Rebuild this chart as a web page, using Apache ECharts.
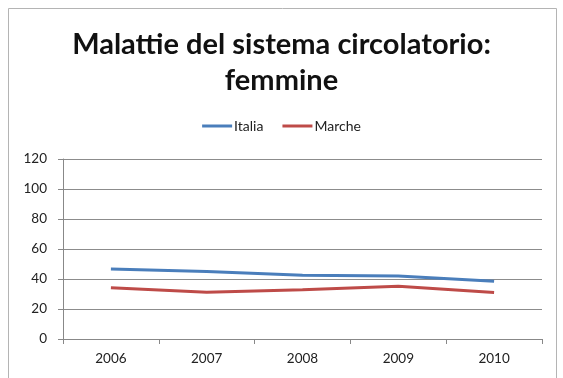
<!DOCTYPE html>
<html>
<head>
<meta charset="utf-8">
<style>
  html, body { margin: 0; padding: 0; background: #ffffff; }
  #chart { width: 563px; height: 378px; }
</style>
<script src="https://cdn.jsdelivr.net/npm/echarts@6/dist/echarts.min.js"></script>
</head>
<body>
<div id="chart"></div>
<script>
// Years on the category axis
const years = ['2006', '2007', '2008', '2009', '2010'];
// Rates for women, circulatory diseases
const italia = [46.7, 45, 42.5, 42, 38.5];
const marche = [34.2, 31.2, 32.8, 35.2, 31];
// Value axis ticks
const yTicks = [0, 20, 40, 60, 80, 100, 120];

const font = 'Lato, "Open Sans", sans-serif';

const chart = echarts.init(document.getElementById('chart'), null, { renderer: 'canvas' });
chart.setOption({
  backgroundColor: '#ffffff',
  animation: false,
  graphic: [{
    type: 'rect',
    shape: { x: 8.5, y: 8.5, width: 548, height: 380 },
    style: { fill: 'none', stroke: '#b4b4b4', lineWidth: 1 },
    silent: true
  }],
  title: {
    text: 'Malattie del sistema circolatorio:\nfemmine',
    left: 'center',
    top: 22,
    textStyle: {
      fontFamily: font,
      fontWeight: 'bold',
      fontSize: 29,
      lineHeight: 36,
      color: '#111111'
    }
  },
  legend: {
    top: 114,
    left: 'center',
    itemWidth: 30,
    itemHeight: 3,
    itemGap: 19,
    icon: 'rect',
    textStyle: { fontFamily: font, fontSize: 14, color: '#222222', padding: [0, 0, 0, -3] },
    data: ['Italia', 'Marche']
  },
  grid: { left: 63, right: 21, top: 159, bottom: 39, containLabel: false },
  xAxis: {
    type: 'category',
    data: years,
    boundaryGap: true,
    axisLine: { show: true, lineStyle: { color: '#888888', width: 1 } },
    axisTick: { show: true, inside: false, length: 5, alignWithLabel: false, lineStyle: { color: '#888888' } },
    axisLabel: { margin: 13, fontFamily: font, fontSize: 13.5, color: '#222222' },
    splitLine: { show: false }
  },
  yAxis: {
    type: 'value',
    min: yTicks[0],
    max: yTicks[yTicks.length - 1],
    interval: yTicks[1] - yTicks[0],
    axisLine: { show: true, lineStyle: { color: '#888888', width: 1 } },
    axisTick: { show: true, inside: false, length: 5, lineStyle: { color: '#888888' } },
    axisLabel: { margin: 16, fontFamily: font, fontSize: 13.5, color: '#222222' },
    splitLine: { show: true, lineStyle: { color: '#8c8c8c', width: 1 } }
  },
  series: [
    {
      name: 'Italia',
      type: 'line',
      data: italia,
      symbol: 'none',
      smooth: false,
      color: '#4a7ebb',
      lineStyle: { color: '#4a7ebb', width: 3 }
    },
    {
      name: 'Marche',
      type: 'line',
      data: marche,
      symbol: 'none',
      smooth: false,
      color: '#be4b48',
      lineStyle: { color: '#be4b48', width: 3 }
    }
  ]
});
</script>
</body>
</html>
